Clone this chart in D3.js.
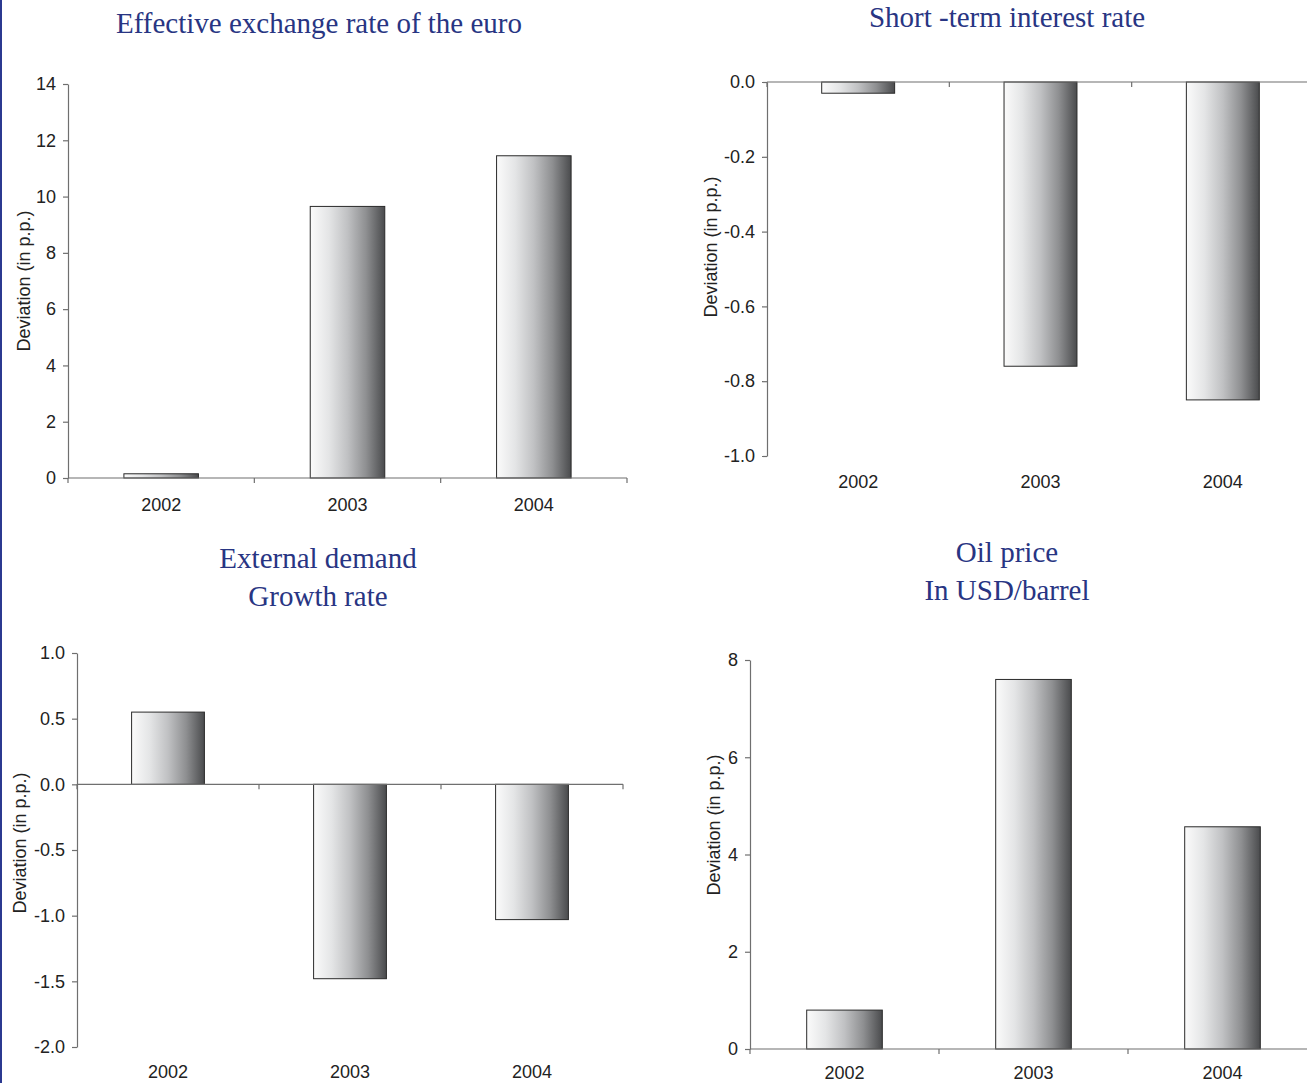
<!DOCTYPE html>
<html>
<head>
<meta charset="utf-8">
<script src="https://cdn.jsdelivr.net/npm/d3@7"></script>
<style>
  html, body { margin: 0; padding: 0; background: #ffffff; }
  svg { display: block; }
</style>
</head>
<body>
<svg id="chart" width="1307" height="1083"></svg>
<script>
// Categories shared by all four panels
const years = ["2002", "2003", "2004"];

// Deviations from baseline, one array per panel
const exchangeRate   = [0.15, 9.65, 11.45];
const interestRate   = [-0.03, -0.76, -0.85];
const externalDemand = [0.55, -1.48, -1.03];
const oilPrice       = [0.80, 7.60, 4.57];

// Y tick values per panel
const exchangeTicks = [0, 2, 4, 6, 8, 10, 12, 14];
const interestTicks = [0.0, -0.2, -0.4, -0.6, -0.8, -1.0];
const demandTicks   = [1.0, 0.5, 0.0, -0.5, -1.0, -1.5, -2.0];
const oilTicks      = [0, 2, 4, 6, 8];

const yLabel = "Deviation (in p.p.)";

const svg = d3.select("#chart");
const titleColor = "#283583";
const axisColor = "#6f6f6f";
const textColor = "#222222";
const sansFont = "'Liberation Sans', Arial, sans-serif";
const serifFont = "'Liberation Serif', 'Times New Roman', serif";

// Number formats with a plain hyphen for negatives
const hyphen = f => v => f(v).replace("\u2212", "-");
const intFmt = hyphen(d3.format("d"));
const oneDec = hyphen(d3.format(".1f"));

// Left-to-right metallic shading used for every bar
const grad = svg.append("defs").append("linearGradient")
  .attr("id", "barShade").attr("x1", 0).attr("x2", 1).attr("y1", 0).attr("y2", 0);
[[0, "#fbfbfb"], [0.25, "#e4e5e6"], [0.5, "#c0c1c3"], [0.75, "#8e8f91"], [1, "#4a4b4d"]]
  .forEach(([o, c]) => grad.append("stop").attr("offset", o).attr("stop-color", c));

// Thin navy rule along the left edge of the page
svg.append("rect").attr("x", 0).attr("y", 0).attr("width", 2).attr("height", 1083)
  .attr("fill", "#2b3990");

const panels = [
  { values: exchangeRate, ticks: exchangeTicks, domain: [0, 14], fmt: intFmt,
    left: 68, right: 627, top: 84, bottom: 478, labelY: 511,
    title: ["Effective exchange rate of the euro"], titleX: 319, titleY: [33],
    ylabX: 24, ylabY: 281 },
  { values: interestRate, ticks: interestTicks, domain: [-1, 0], fmt: oneDec,
    left: 767, right: 1314, top: 82, bottom: 456, labelY: 488,
    title: ["Short -term interest rate"], titleX: 1007, titleY: [27],
    ylabX: 711, ylabY: 247 },
  { values: externalDemand, ticks: demandTicks, domain: [-2, 1], fmt: oneDec,
    left: 77, right: 623, top: 653, bottom: 1047, labelY: 1078,
    title: ["External demand", "Growth rate"], titleX: 318, titleY: [568, 606],
    ylabX: 20, ylabY: 843 },
  { values: oilPrice, ticks: oilTicks, domain: [0, 8], fmt: intFmt,
    left: 750, right: 1317, top: 660, bottom: 1049, labelY: 1079,
    title: ["Oil price", "In USD/barrel"], titleX: 1007, titleY: [562, 600],
    ylabX: 714, ylabY: 825 }
];

panels.forEach(p => {
  const g = svg.append("g");

  const y = d3.scaleLinear().domain(p.domain).range([p.bottom, p.top]);
  const x = d3.scaleBand().domain(years).range([p.left, p.right])
    .paddingInner(0.6).paddingOuter(0.3);
  const slots = d3.scaleBand().domain(years).range([p.left, p.right]);

  // Bars
  g.selectAll("rect.bar").data(years.map((yr, i) => ({ yr, v: p.values[i] })))
    .join("rect").attr("class", "bar")
    .attr("x", d => x(d.yr))
    .attr("width", x.bandwidth())
    .attr("y", d => y(Math.max(0, d.v)))
    .attr("height", d => Math.abs(y(d.v) - y(0)))
    .attr("fill", "url(#barShade)")
    .attr("stroke", "#2a2a2a").attr("stroke-width", 1);

  // Y axis
  const yAxis = g.append("g").attr("transform", `translate(${p.left},0)`)
    .call(d3.axisLeft(y).tickValues(p.ticks).tickFormat(p.fmt)
      .tickSize(5).tickSizeOuter(0).tickPadding(7));
  yAxis.select(".domain").attr("stroke", axisColor).attr("stroke-width", 1.2);
  yAxis.selectAll(".tick line").attr("stroke", axisColor).attr("stroke-width", 1.2);
  yAxis.selectAll(".tick text").attr("fill", textColor)
    .style("font-family", sansFont).style("font-size", "18px");

  // Category baseline at zero with tick marks between categories
  const y0 = y(0);
  g.append("line").attr("x1", p.left).attr("x2", p.right).attr("y1", y0).attr("y2", y0)
    .attr("stroke", axisColor).attr("stroke-width", 1.2);
  const bounds = years.map(d => slots(d)).concat([p.right]);
  g.selectAll("line.xtick").data(bounds).join("line").attr("class", "xtick")
    .attr("x1", d => d).attr("x2", d => d).attr("y1", y0).attr("y2", y0 + 5)
    .attr("stroke", axisColor).attr("stroke-width", 1.2);

  // Category labels below the plot area
  g.selectAll("text.cat").data(years).join("text").attr("class", "cat")
    .attr("x", d => slots(d) + slots.bandwidth() / 2)
    .attr("y", p.labelY)
    .attr("text-anchor", "middle")
    .attr("fill", textColor)
    .style("font-family", sansFont).style("font-size", "18px")
    .text(d => d);

  // Y axis title
  g.append("text")
    .attr("transform", `translate(${p.ylabX},${p.ylabY}) rotate(-90)`)
    .attr("text-anchor", "middle").attr("dy", "0.35em")
    .attr("fill", textColor)
    .style("font-family", sansFont).style("font-size", "18px")
    .text(yLabel);

  // Panel title
  p.title.forEach((t, i) => {
    g.append("text").attr("x", p.titleX).attr("y", p.titleY[i])
      .attr("text-anchor", "middle").attr("fill", titleColor)
      .style("font-family", serifFont).style("font-size", "29px")
      .text(t);
  });
});
</script>
</body>
</html>
